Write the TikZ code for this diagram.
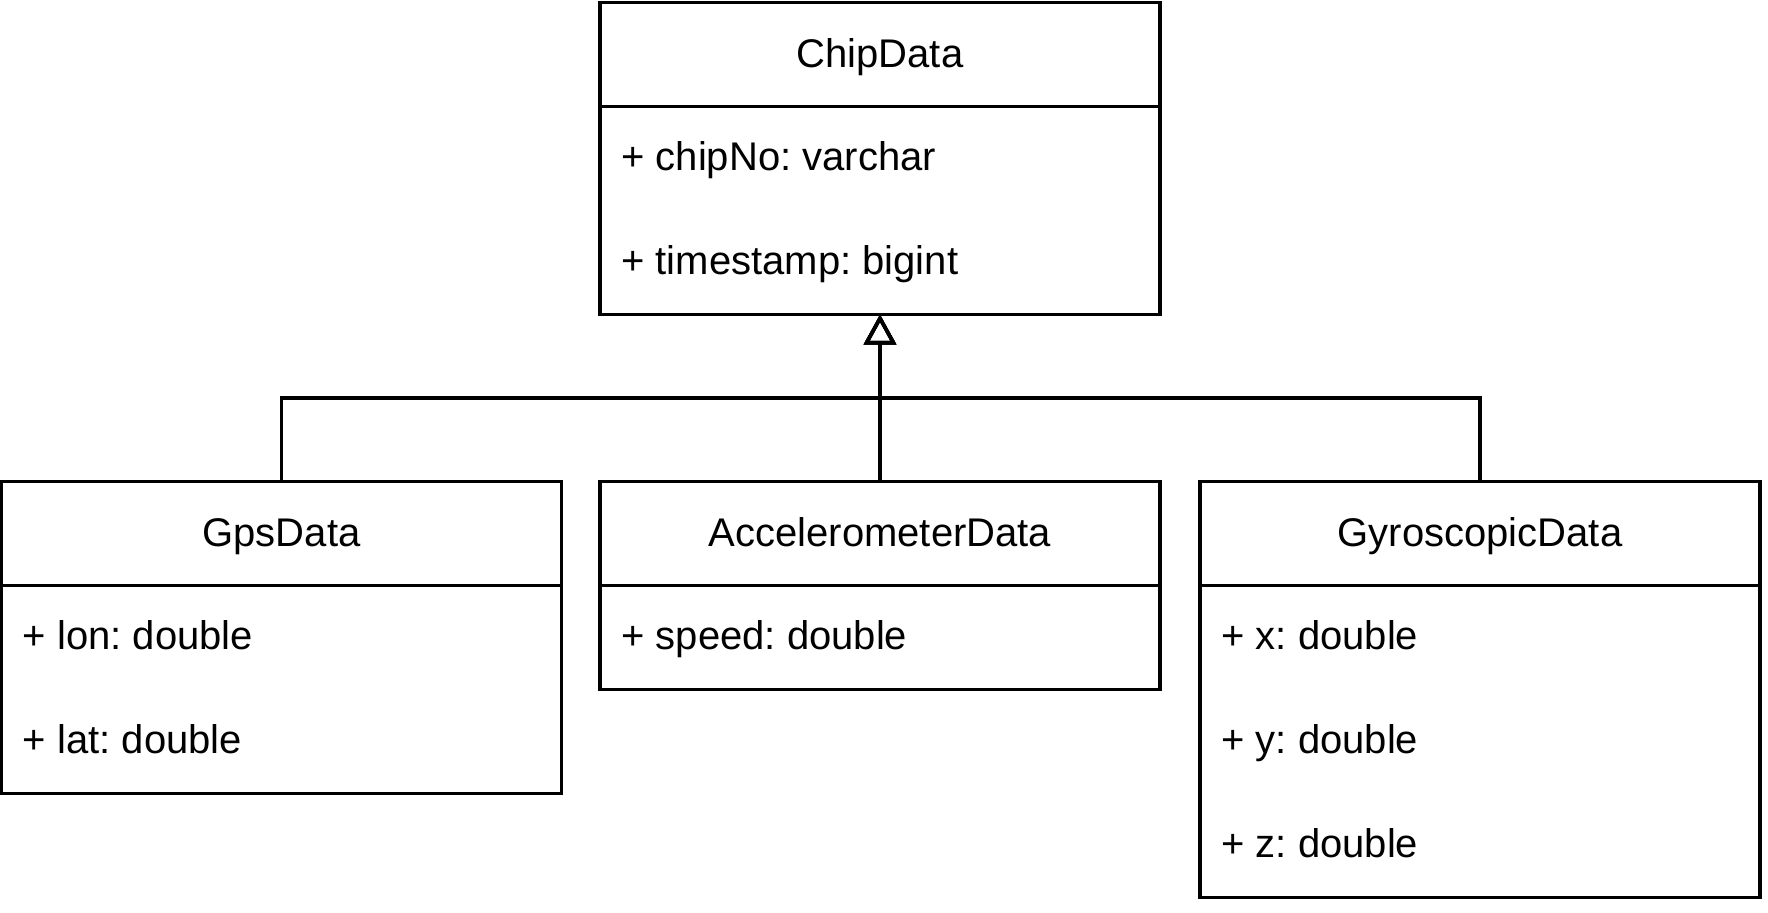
\documentclass[tikz,border=0pt]{standalone}
\usepackage{fontspec}
\setmainfont{Liberation Sans}
\usetikzlibrary{arrows.meta}
\frenchspacing

\tikzset{
  classbox/.style={draw, line width=1.8pt, rectangle, anchor=north west,
    outer sep=0pt, inner sep=0pt, minimum width=280pt},
  classname/.style={anchor=base, inner sep=0pt, font=\fontsize{20pt}{24pt}\selectfont},
  attr/.style={anchor=base west, inner sep=0pt, font=\fontsize{20pt}{24pt}\selectfont},
  divider/.style={line width=1.8pt},
  extends/.style={line width=1.8pt, -{Triangle[open, length=15pt, width=16pt]}},
}

\begin{document}
\begin{tikzpicture}[x=0.5pt, y=-0.5pt]
  \useasboundingbox (0,0) rectangle (1768,912);

  % parent class
  \node[classbox, minimum height=156pt] (chip) at (600,2.5) {};
  \draw[divider] ([yshift=-52pt]chip.north west) -- ([yshift=-52pt]chip.north east);
  \node[classname] (chip-name) at (880,67.5) {ChipData};
  \node[attr] (chip-no) at (621,170.5) {+ chipNo: varchar};
  \node[attr] (chip-ts) at (621,274.5) {+ timestamp: bigint};

  % child classes
  \node[classbox, minimum height=156pt] (gps) at (1.5,481.5) {};
  \draw[divider] ([yshift=-52pt]gps.north west) -- ([yshift=-52pt]gps.north east);
  \node[classname] (gps-name) at (281.5,546.5) {GpsData};
  \node[attr] (gps-lon) at (22.5,649.5) {+ lon: double};
  \node[attr] (gps-lat) at (22.5,753.5) {+ lat: double};

  \node[classbox, minimum height=104pt] (acc) at (600,481.5) {};
  \draw[divider] ([yshift=-52pt]acc.north west) -- ([yshift=-52pt]acc.north east);
  \node[classname] (acc-name) at (880,546.5) {AccelerometerData};
  \node[attr] (acc-speed) at (621,649.5) {+ speed: double};

  \node[classbox, minimum height=208pt] (gyro) at (1200,481.5) {};
  \draw[divider] ([yshift=-52pt]gyro.north west) -- ([yshift=-52pt]gyro.north east);
  \node[classname] (gyro-name) at (1480,546.5) {GyroscopicData};
  \node[attr] (gyro-x) at (1221,649.5) {+ x: double};
  \node[attr] (gyro-y) at (1221,753.5) {+ y: double};
  \node[attr] (gyro-z) at (1221,857.5) {+ z: double};

  % generalisation
  \coordinate (join) at (880,398);
  \draw[extends] (gps.north) |- (join) -- (chip.south);
  \draw[extends] (gyro.north) |- (join) -- (chip.south);
  \draw[extends] (acc.north) -- (chip.south);
\end{tikzpicture}
\end{document}
